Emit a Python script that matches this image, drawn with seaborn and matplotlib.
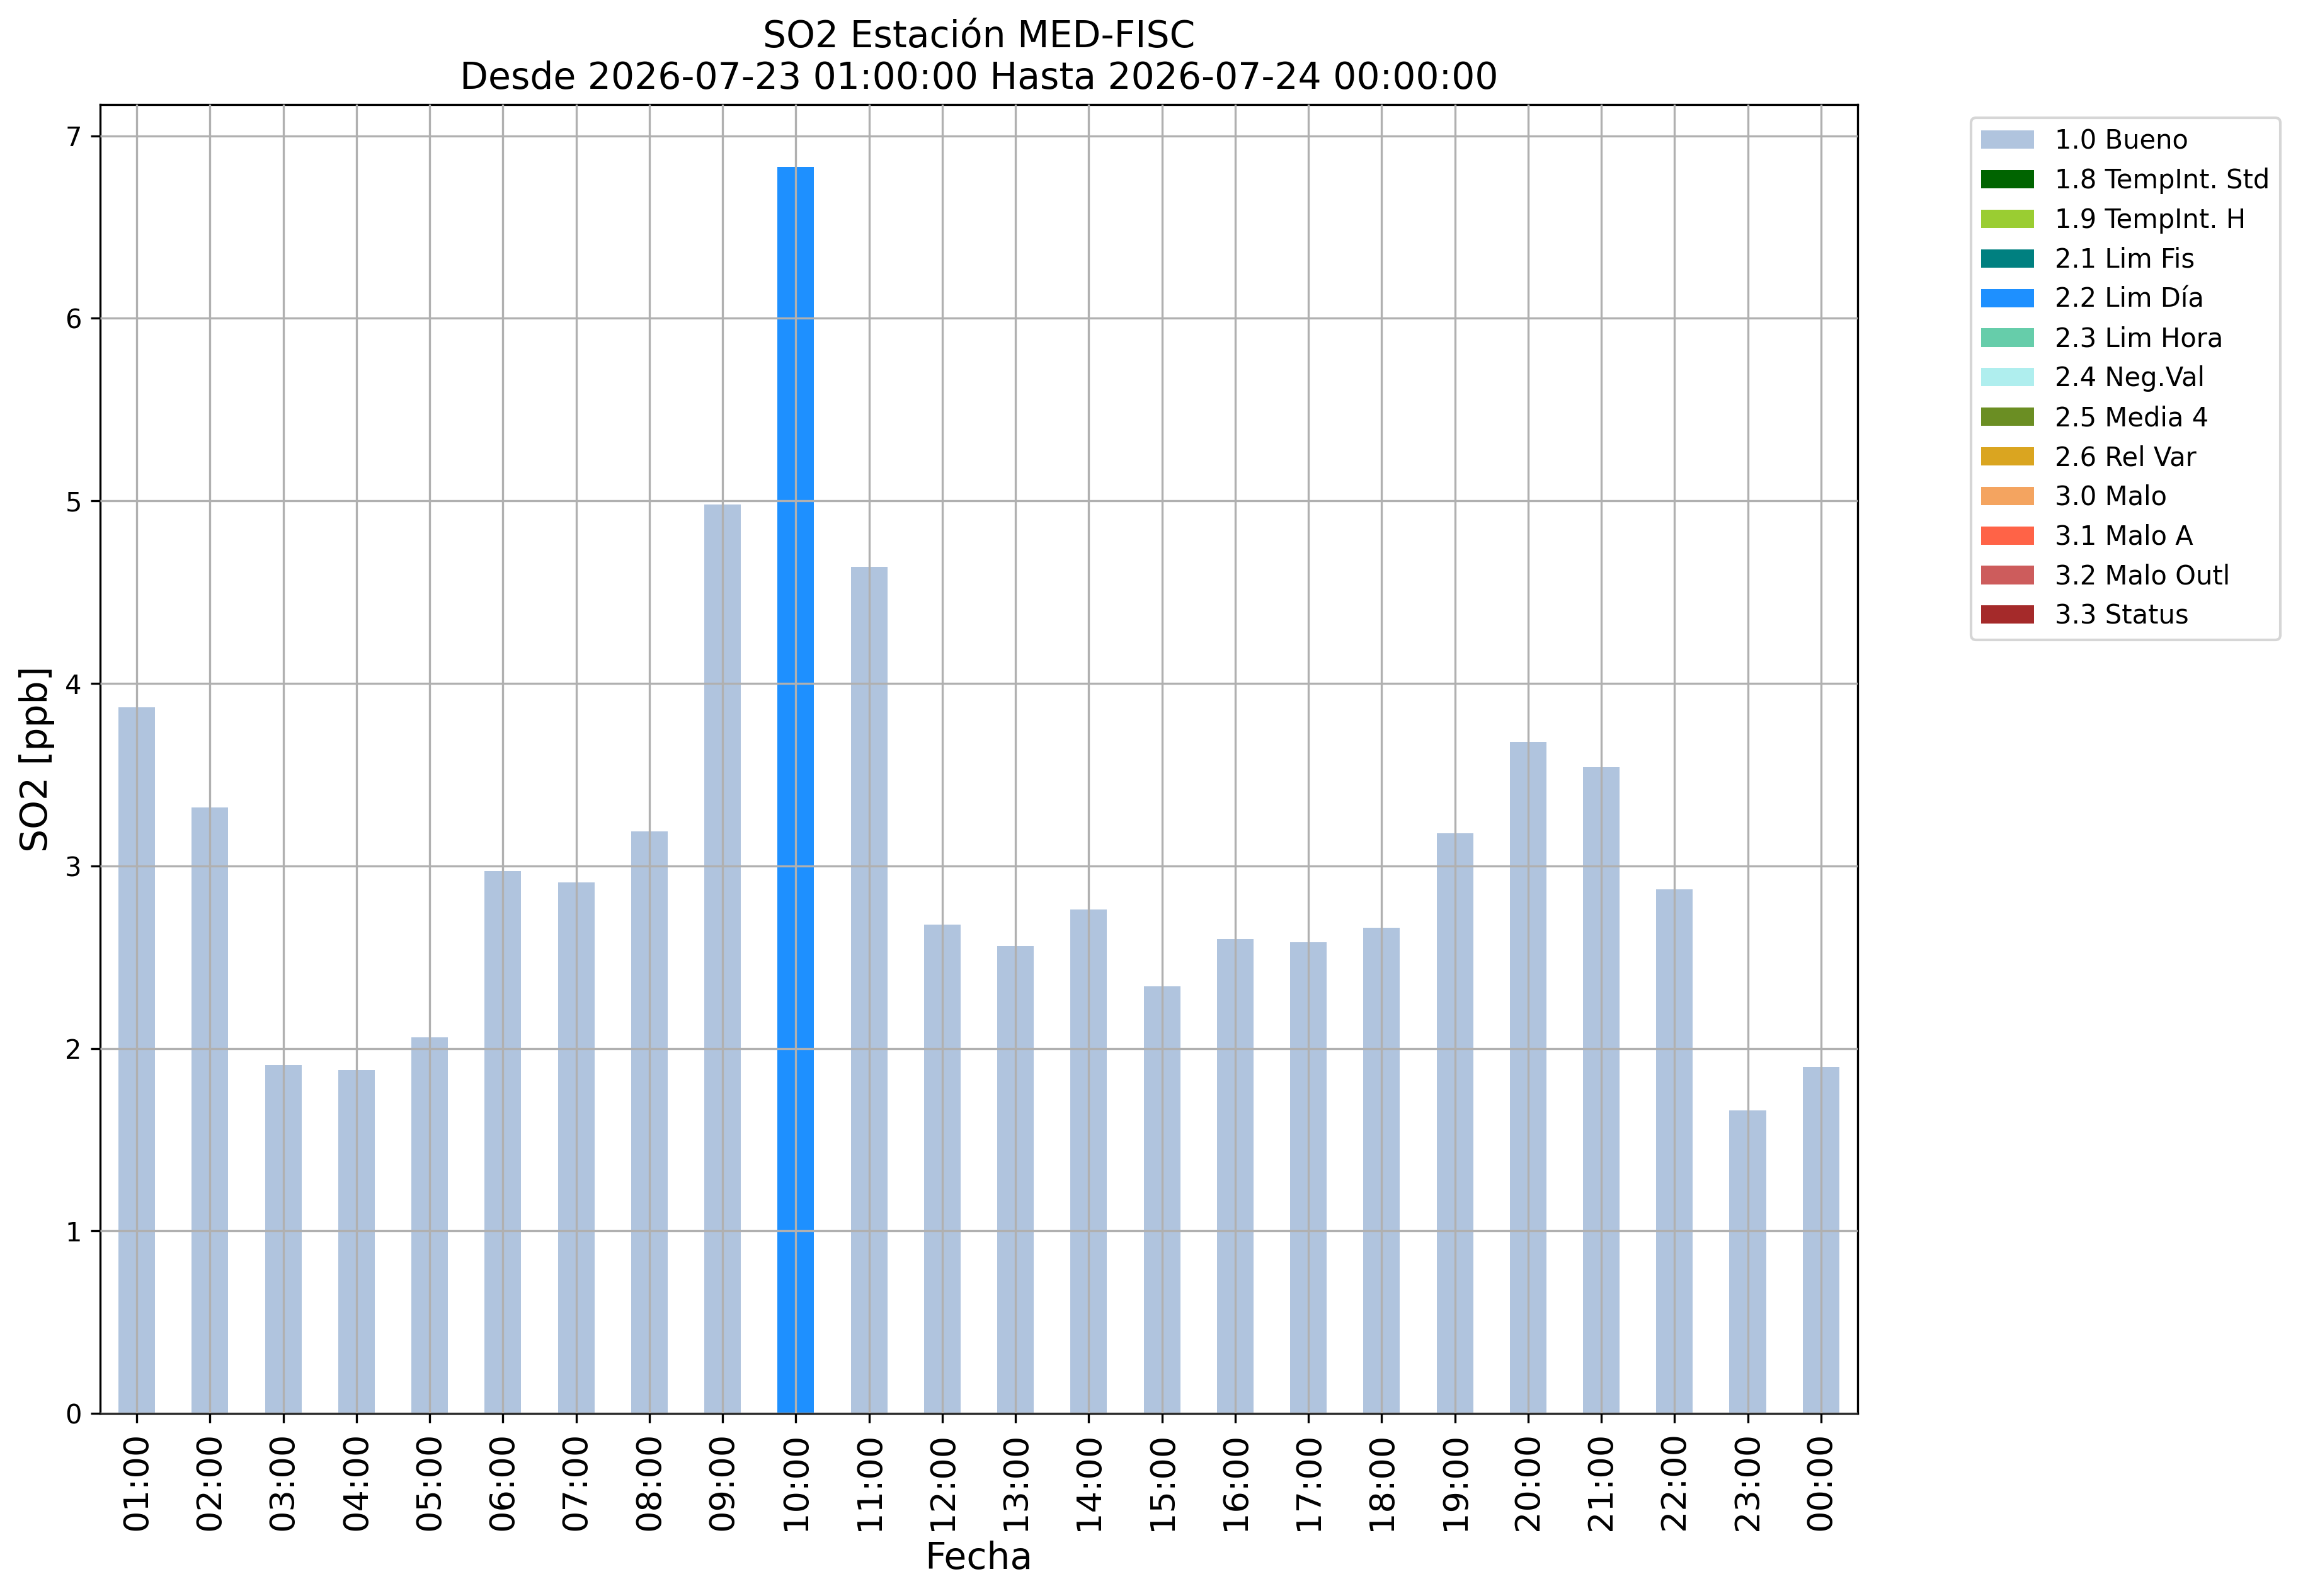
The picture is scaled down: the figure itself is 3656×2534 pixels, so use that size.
import pandas as pd
import matplotlib
matplotlib.use('Agg')
import matplotlib.pyplot as plt
from matplotlib.patches import Patch
import seaborn as sns

# Hourly SO2 values
hours = ['01:00', '02:00', '03:00', '04:00', '05:00', '06:00', '07:00', '08:00',
         '09:00', '10:00', '11:00', '12:00', '13:00', '14:00', '15:00', '16:00',
         '17:00', '18:00', '19:00', '20:00', '21:00', '22:00', '23:00', '00:00']
so2 = [3.87, 3.32, 1.91, 1.88, 2.06, 2.97, 2.91, 3.19, 4.98, 6.83, 4.64, 2.68,
       2.56, 2.76, 2.34, 2.60, 2.58, 2.66, 3.18, 3.68, 3.54, 2.87, 1.66, 1.90]
flags = ['1.0 Bueno'] * 9 + ['2.2 Lim Día'] + ['1.0 Bueno'] * 14

# Quality flag categories and their colours
flag_names = ['1.0 Bueno', '1.8 TempInt. Std', '1.9 TempInt. H', '2.1 Lim Fis',
              '2.2 Lim Día', '2.3 Lim Hora', '2.4 Neg.Val', '2.5 Media 4',
              '2.6 Rel Var', '3.0 Malo', '3.1 Malo A', '3.2 Malo Outl', '3.3 Status']
flag_colors = ['lightsteelblue', 'darkgreen', 'yellowgreen', 'teal', 'dodgerblue',
               'mediumaquamarine', 'paleturquoise', 'olivedrab', 'goldenrod',
               'sandybrown', 'tomato', 'indianred', 'brown']

df = pd.DataFrame({'Fecha': hours, 'SO2': so2, 'Flag': flags})
palette = dict(zip(flag_names, flag_colors))

fig, ax = plt.subplots(figsize=(3656 / 300, 2534 / 300), dpi=300)
fig.subplots_adjust(left=0.0435, right=0.8066, top=0.9345, bottom=0.1144)

sns.barplot(data=df, x='Fecha', y='SO2', hue='Flag', order=hours,
            hue_order=flag_names, palette=palette, dodge=False, width=0.5,
            saturation=1, legend=False, ax=ax)

ax.grid(True, color='#b0b0b0', linewidth=0.8)
ax.set_axisbelow(False)
ax.set_xlim(-0.5, len(hours) - 0.5)

ax.set_title('SO2 Estación MED-FISC\nDesde 2026-07-23 01:00:00 Hasta 2026-07-24 00:00:00',
             fontsize=14)
ax.set_xlabel('Fecha', fontsize=14)
ax.set_ylabel('SO2 [ppb]', fontsize=14)
ax.tick_params(axis='x', labelrotation=90, labelsize=13)
ax.tick_params(axis='y', labelsize=10)

handles = [Patch(facecolor=c, label=n) for n, c in zip(flag_names, flag_colors)]
ax.legend(handles=handles, loc='upper left', bbox_to_anchor=(1.057, 1), fontsize=10)

plt.savefig('out.png', dpi=300)
